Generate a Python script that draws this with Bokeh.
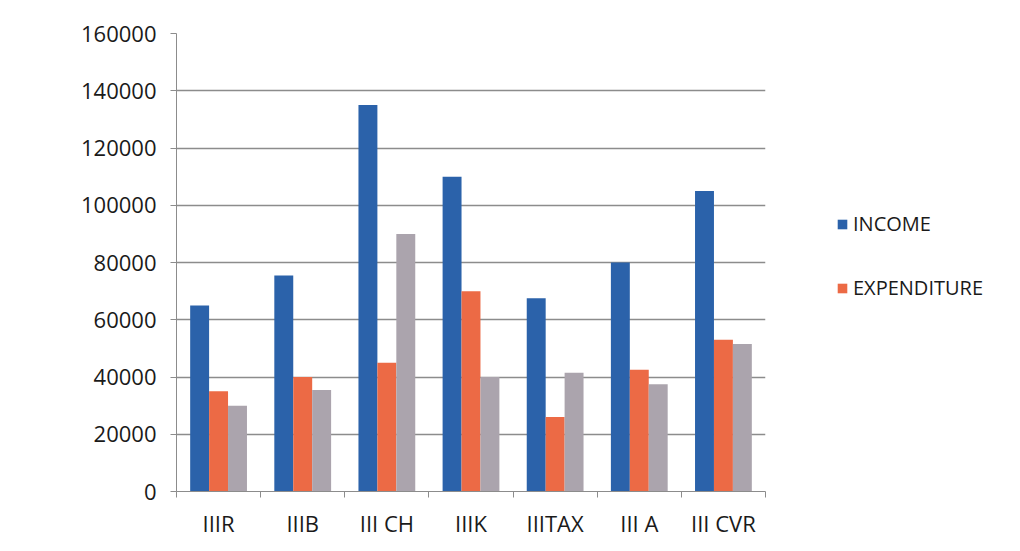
import numpy as np
from bokeh.plotting import figure
from bokeh.models import (ColumnDataSource, FixedTicker, Legend, LegendItem, Range1d,
                          NumeralTickFormatter)
from bokeh.transform import dodge
from bokeh.embed import file_html
from bokeh.resources import INLINE

categories = ["IIIR", "IIIB", "III CH", "IIIK", "IIITAX", "III A", "III CVR"]
income = [65000, 75500, 135000, 110000, 67500, 80000, 105000]
expenditure = [35000, 40000, 45000, 70000, 26000, 42500, 53000]
third = [30000, 35500, 90000, 40000, 41500, 37500, 51500]
y_ticks = [0, 20000, 40000, 60000, 80000, 100000, 120000, 140000, 160000]

FONT = "Open Sans"
TXT = "#1a1a1a"

n = len(categories)
centers = np.arange(n) + 0.5
src = ColumnDataSource(dict(x=centers, income=income, expenditure=expenditure, third=third))

p = figure(width=1004, height=535, output_backend="svg", toolbar_location=None,
           x_range=Range1d(0, n), y_range=Range1d(0, 160000),
           min_border_left=176, min_border_right=239, min_border_top=33, min_border_bottom=44)
p.frame_width = 589
p.frame_height = 458

w = 0.225
r1 = p.vbar(x=dodge("x", -w, range=p.x_range), top="income", width=w, source=src,
            fill_color="#2b62aa", line_color=None)
r2 = p.vbar(x=dodge("x", 0, range=p.x_range), top="expenditure", width=w, source=src,
            fill_color="#ec6a45", line_color=None)
r3 = p.vbar(x=dodge("x", w, range=p.x_range), top="third", width=w, source=src,
            fill_color="#aba4ad", line_color=None)

p.outline_line_color = None
p.xgrid.grid_line_color = None
p.ygrid.ticker = FixedTicker(ticks=y_ticks)
p.ygrid.grid_line_color = "#8c8c8c"
p.ygrid.grid_line_width = 1.3

p.yaxis.ticker = FixedTicker(ticks=y_ticks)
p.yaxis.formatter = NumeralTickFormatter(format="0")
p.yaxis.axis_line_color = "#8c8c8c"
p.yaxis.major_tick_line_color = "#8c8c8c"
p.yaxis.major_tick_out = 6
p.yaxis.major_tick_in = 0
p.yaxis.minor_tick_line_color = None
p.yaxis.major_label_standoff = 14
p.yaxis.major_label_text_font = FONT
p.yaxis.major_label_text_font_size = "22px"
p.yaxis.major_label_text_color = TXT

p.xaxis.ticker = FixedTicker(ticks=list(centers), minor_ticks=list(range(n + 1)))
p.xaxis.major_label_overrides = {float(c): lab for c, lab in zip(centers, categories)}
p.xaxis.axis_line_color = "#8c8c8c"
p.xaxis.major_tick_line_color = None
p.xaxis.minor_tick_line_color = "#8c8c8c"
p.xaxis.minor_tick_out = 6
p.xaxis.minor_tick_in = 0
p.xaxis.major_label_standoff = 10
p.xaxis.major_label_text_font = FONT
p.xaxis.major_label_text_font_size = "22px"
p.xaxis.major_label_text_color = TXT

legend = Legend(items=[LegendItem(label="INCOME", renderers=[r1]),
                       LegendItem(label="EXPENDITURE", renderers=[r2])],
                location=(71, 190), orientation="vertical",
                glyph_width=12, glyph_height=12, label_height=20, spacing=37,
                padding=0, margin=0, label_standoff=5,
                border_line_color=None, background_fill_alpha=0,
                label_text_font=FONT, label_text_font_size="20px", label_text_color=TXT)
p.add_layout(legend, "right")

open("out.html", "w").write(file_html(p, INLINE))
